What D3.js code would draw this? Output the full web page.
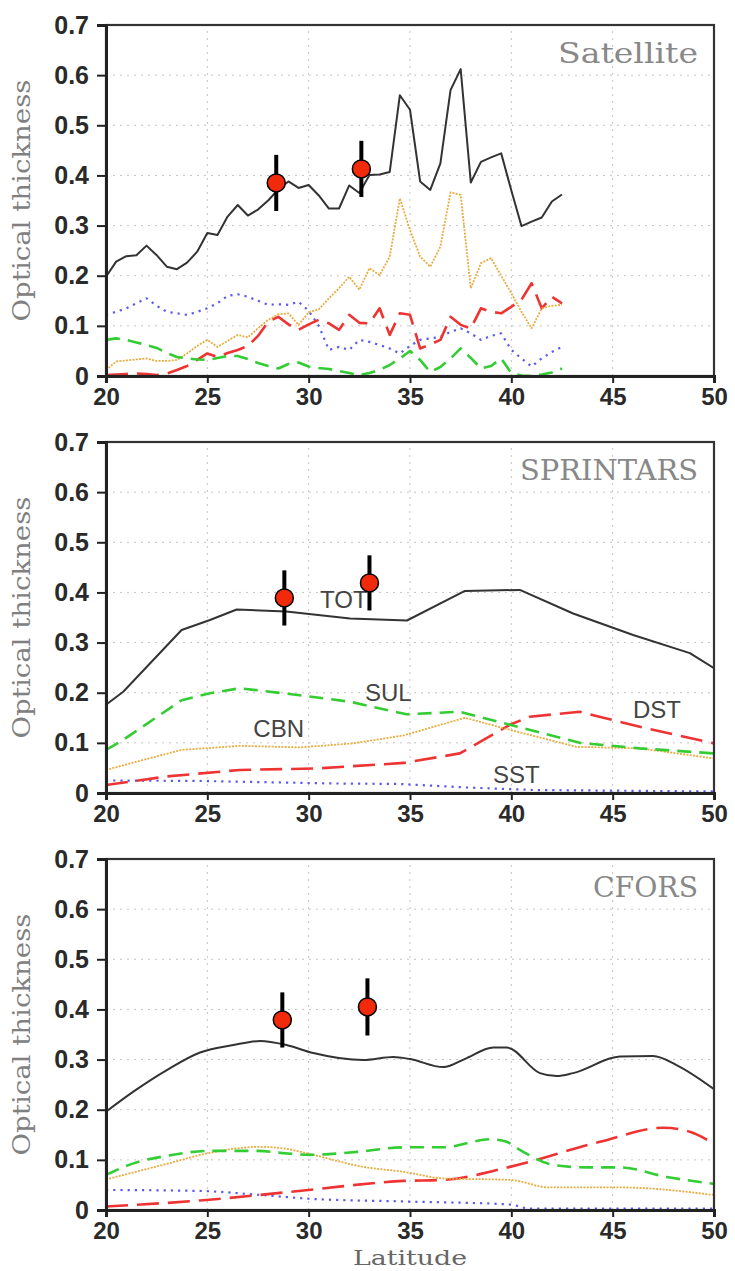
<!DOCTYPE html>
<html><head><meta charset="utf-8">
<script src="https://cdn.jsdelivr.net/npm/d3@7"></script>
<style>body{margin:0;background:#fff}svg{display:block}</style>
</head><body>
<svg id="chart" width="735" height="1271"></svg>
<script>
// ---------------- DATA ----------------
const yTicks = [0, 0.1, 0.2, 0.3, 0.4, 0.5, 0.6, 0.7];
const xTicks = [20, 25, 30, 35, 40, 45, 50];
const seriesNames = ["TOT", "SUL", "CBN", "DST", "SST"];

// Satellite (0.5 degree steps, 20 - 42.5)
const satLat = [20,20.5,21,21.5,22,22.5,23,23.5,24,24.5,25,25.5,26,26.5,27,27.5,28,28.5,29,29.5,30,30.5,31,31.5,32,32.5,33,33.5,34,34.5,35,35.5,36,36.5,37,37.5,38,38.5,39,39.5,40,40.5,41,41.5,42,42.5];
const satTOT = [0.198,0.228,0.239,0.241,0.260,0.241,0.218,0.213,0.226,0.248,0.285,0.281,0.318,0.341,0.320,0.332,0.350,0.372,0.388,0.375,0.381,0.360,0.334,0.334,0.380,0.365,0.401,0.402,0.407,0.560,0.531,0.388,0.371,0.424,0.570,0.612,0.386,0.427,0.436,0.444,0.370,0.299,0.308,0.316,0.348,0.362];
const satCBN = [0.012,0.029,0.031,0.033,0.035,0.030,0.030,0.032,0.045,0.060,0.072,0.058,0.070,0.082,0.077,0.095,0.112,0.123,0.125,0.102,0.127,0.133,0.155,0.175,0.198,0.172,0.215,0.201,0.238,0.354,0.291,0.238,0.218,0.258,0.366,0.361,0.175,0.225,0.235,0.200,0.165,0.128,0.095,0.135,0.140,0.142];
const satSST = [0.122,0.128,0.135,0.145,0.155,0.140,0.128,0.125,0.122,0.128,0.135,0.145,0.160,0.163,0.158,0.150,0.142,0.143,0.142,0.148,0.130,0.100,0.052,0.058,0.052,0.072,0.068,0.062,0.055,0.045,0.060,0.072,0.075,0.078,0.088,0.095,0.085,0.072,0.080,0.085,0.052,0.035,0.019,0.035,0.048,0.058];
const satSUL = [0.072,0.075,0.072,0.067,0.062,0.056,0.046,0.038,0.035,0.033,0.032,0.036,0.040,0.040,0.034,0.026,0.020,0.015,0.024,0.027,0.019,0.016,0.014,0.010,0.006,0.002,0.006,0.012,0.022,0.035,0.050,0.032,0.008,0.018,0.035,0.055,0.036,0.015,0.020,0.035,0.006,0.001,0.000,0.003,0.007,0.015];
const satDST = [0.002,0.003,0.004,0.005,0.004,0.002,0.005,0.012,0.020,0.032,0.045,0.038,0.046,0.052,0.060,0.080,0.108,0.118,0.103,0.092,0.103,0.112,0.105,0.092,0.122,0.106,0.105,0.135,0.082,0.125,0.122,0.055,0.063,0.072,0.118,0.102,0.095,0.135,0.128,0.125,0.138,0.152,0.185,0.135,0.158,0.145];

// SPRINTARS (vertices)
const sprTOTLat = [20,20.85,23.73,25.13,26.45,28.9,32.04,34.85,37.71,40.42,43.05,46.01,48.81,50];
const sprTOT    = [0.176,0.202,0.325,0.345,0.366,0.362,0.348,0.344,0.403,0.405,0.358,0.315,0.279,0.249];
const sprSULLat = [20,20.7,23.73,25.13,26.6,29.56,32.04,34.83,37.46,39.93,43.38,46.34,50];
const sprSUL    = [0.086,0.102,0.185,0.199,0.209,0.195,0.182,0.157,0.162,0.136,0.100,0.089,0.079];
const sprCBNLat = [20,21.84,23.73,26.6,29.56,32.2,34.7,37.71,39.93,43.22,46.34,50];
const sprCBN    = [0.046,0.066,0.086,0.094,0.091,0.099,0.115,0.150,0.126,0.092,0.089,0.069];
const sprDSTLat = [20,23,26.6,30.4,34.7,37.46,39.93,40.9,43.38,46.34,50];
const sprDST    = [0.016,0.033,0.046,0.049,0.060,0.079,0.136,0.152,0.162,0.132,0.099];
const sprSSTLat = [20,24.64,31.2,34.5,37.8,41.08,50];
const sprSST    = [0.025,0.024,0.019,0.018,0.011,0.006,0.003];

// CFORS (vertices, smooth curves)
const cfoTOTLat = [20,21.35,23,24.64,26.28,27.6,28.9,30.23,32.7,34.17,35,36.64,37.8,39.1,39.77,41.41,42.24,43.05,45.36,47,48.15,50];
const cfoTOT    = [0.196,0.236,0.279,0.314,0.329,0.337,0.329,0.313,0.299,0.305,0.301,0.285,0.303,0.324,0.324,0.273,0.267,0.273,0.306,0.307,0.289,0.241];
const cfoSULLat = [20,21.35,23,25.13,27.5,28.6,30.1,32.4,34.7,36.64,38.94,39.77,40.42,42.07,43.72,45.36,47.66,50];
const cfoSUL    = [0.070,0.093,0.108,0.118,0.118,0.114,0.110,0.116,0.125,0.125,0.141,0.136,0.120,0.090,0.085,0.085,0.066,0.052];
const cfoCBNLat = [20,23,25.13,27.6,28.9,30.23,32.7,34.7,36.64,39.93,41.9,45.36,50];
const cfoCBN    = [0.061,0.092,0.114,0.126,0.122,0.110,0.086,0.076,0.063,0.060,0.045,0.045,0.030];
const cfoDSTLat = [20,24.64,27.6,30.23,34.7,36.64,39.93,44.37,47.5,48.8,50];
const cfoDST    = [0.007,0.019,0.030,0.041,0.058,0.060,0.086,0.136,0.164,0.156,0.132];
const cfoSSTLat = [20,24.64,27.6,30.23,34.7,39.93,40.9,50];
const cfoSST    = [0.040,0.038,0.030,0.022,0.017,0.011,0.003,0.003];

// Observations (lat, value, error half-range)
const satObsLat = [28.4, 32.6];   const satObsVal = [0.385, 0.413]; const satObsErr = [0.056, 0.056];
const sprObsLat = [28.8, 33.0];   const sprObsVal = [0.389, 0.419]; const sprObsErr = [0.055, 0.055];
const cfoObsLat = [28.7, 32.9];   const cfoObsVal = [0.379, 0.405]; const cfoObsErr = [0.055, 0.057];

const panelTitles = ["Satellite", "SPRINTARS", "CFORS"];
const yTitle = "Optical thickness";
const xTitle = "Latitude";

// ---------------- STYLE / LAYOUT ----------------
const styles = {
  TOT: {color: "#333333", width: 2, dash: null},
  SUL: {color: "#33cc33", width: 2.6, dash: "14,8"},
  CBN: {color: "#e8ac40", width: 1.8, dash: "2,1.3"},
  DST: {color: "#ee3333", width: 2.6, dash: "22,9"},
  SST: {color: "#5a5af0", width: 2.2, dash: "2.2,5"}
};
const drawOrder = ["SST", "DST", "CBN", "SUL", "TOT"];
const xLeft = 106, xRight = 714;
const panels = [
  {top: 25, bottom: 376, title: panelTitles[0], titleLen: 140, curve: d3.curveLinear,
   series: {TOT: [satLat, satTOT], SUL: [satLat, satSUL], CBN: [satLat, satCBN], DST: [satLat, satDST], SST: [satLat, satSST]},
   obs: [satObsLat, satObsVal, satObsErr], labels: []},
  {top: 442, bottom: 793, title: panelTitles[1], titleLen: 178, curve: d3.curveLinear,
   series: {TOT: [sprTOTLat, sprTOT], SUL: [sprSULLat, sprSUL], CBN: [sprCBNLat, sprCBN], DST: [sprDSTLat, sprDST], SST: [sprSSTLat, sprSST]},
   obs: [sprObsLat, sprObsVal, sprObsErr],
   labels: [["TOT", 30.56, 0.369], ["SUL", 32.78, 0.184], ["CBN", 27.27, 0.112], ["DST", 46.0, 0.149], ["SST", 39.09, 0.020]]},
  {top: 859, bottom: 1210, title: panelTitles[2], titleLen: 105, curve: d3.curveMonotoneX,
   series: {TOT: [cfoTOTLat, cfoTOT], SUL: [cfoSULLat, cfoSUL], CBN: [cfoCBNLat, cfoCBN], DST: [cfoDSTLat, cfoDST], SST: [cfoSSTLat, cfoSST]},
   obs: [cfoObsLat, cfoObsVal, cfoObsErr], labels: []}
];

const svg = d3.select("#chart");
svg.append("rect").attr("width", 735).attr("height", 1271).attr("fill", "#fff");

const x = d3.scaleLinear().domain([20, 50]).range([xLeft, xRight]);

panels.forEach((p, pi) => {
  const y = d3.scaleLinear().domain([0, 0.7]).range([p.bottom, p.top]);
  const g = svg.append("g");

  // grid
  const grid = g.append("g").attr("stroke", "#c4c4c4").attr("stroke-width", 1).attr("stroke-dasharray", "2,5");
  yTicks.filter(v => v > 0 && v < 0.7).forEach(v => {
    grid.append("line").attr("x1", x(20)).attr("x2", x(50)).attr("y1", y(v)).attr("y2", y(v));
  });
  xTicks.filter(v => v > 20 && v < 50).forEach(v => {
    grid.append("line").attr("x1", x(v)).attr("x2", x(v)).attr("y1", y(0)).attr("y2", y(0.7));
  });

  // series lines
  const clipId = "clip" + pi;
  g.append("clipPath").attr("id", clipId).append("rect")
    .attr("x", x(20)).attr("y", y(0.7)).attr("width", x(50) - x(20)).attr("height", y(0) - y(0.7) - 1);
  const lines = g.append("g").attr("clip-path", `url(#${clipId})`);
  drawOrder.forEach(name => {
    const [lat, val] = p.series[name];
    const pts = lat.map((l, i) => [l, val[i]]);
    const st = styles[name];
    const line = d3.line().x(d => x(d[0])).y(d => y(d[1])).curve(p.curve);
    lines.append("path").attr("d", line(pts)).attr("fill", "none")
      .attr("stroke", st.color).attr("stroke-width", st.width)
      .attr("stroke-dasharray", st.dash).attr("stroke-linejoin", "round");
  });

  // series labels
  p.labels.forEach(([t, lx, ly]) => {
    g.append("text").attr("x", x(lx)).attr("y", y(ly)).text(t)
      .attr("font-family", "Liberation Sans, Arial, sans-serif").attr("font-size", 24)
      .attr("fill", "#444");
  });

  // observations
  const [oLat, oVal, oErr] = p.obs;
  oLat.forEach((l, i) => {
    g.append("line").attr("x1", x(l)).attr("x2", x(l))
      .attr("y1", y(oVal[i] - oErr[i])).attr("y2", y(oVal[i] + oErr[i]))
      .attr("stroke", "#000").attr("stroke-width", 4);
    g.append("circle").attr("cx", x(l)).attr("cy", y(oVal[i])).attr("r", 9)
      .attr("fill", "#f02a0a").attr("stroke", "#000").attr("stroke-width", 1.5);
  });

  // frame
  g.append("rect").attr("x", x(20)).attr("y", y(0.7)).attr("width", x(50) - x(20)).attr("height", y(0) - y(0.7))
    .attr("fill", "none").attr("stroke", "#333").attr("stroke-width", 2.2);

  // axes
  const ya = g.append("g").attr("transform", `translate(${x(20)},0)`)
    .call(d3.axisLeft(y).tickValues(yTicks).tickFormat(d => d === 0 ? "0" : d3.format(".1f")(d)).tickSize(9).tickPadding(8));
  ya.select(".domain").attr("stroke", "#222").attr("stroke-width", 3);
  ya.selectAll(".tick line").attr("stroke", "#222").attr("stroke-width", 2);
  ya.selectAll("text").attr("font-family", "Liberation Sans, Arial, sans-serif").attr("font-size", 25)
    .attr("font-weight", "bold").attr("fill", "#2a2a2a");

  const xa = g.append("g").attr("transform", `translate(0,${y(0)})`)
    .call(d3.axisBottom(x).tickValues(xTicks).tickFormat(d3.format("d")).tickSize(7).tickPadding(5));
  xa.select(".domain").attr("stroke", "#222").attr("stroke-width", 3);
  xa.selectAll(".tick line").attr("stroke", "#222").attr("stroke-width", 2);
  xa.selectAll("text").attr("font-family", "Liberation Sans, Arial, sans-serif").attr("font-size", 24)
    .attr("font-weight", "bold").attr("fill", "#2a2a2a");

  // panel title
  g.append("text").attr("x", 698).attr("y", y(0.7) + 38).attr("text-anchor", "end")
    .attr("font-family", "DejaVu Serif, serif").attr("font-size", 28).attr("fill", "#888")
    .attr("textLength", p.titleLen).attr("lengthAdjust", "spacingAndGlyphs").text(p.title);

  // y title
  const cy = (p.top + p.bottom) / 2;
  g.append("text").attr("transform", `translate(30,${cy}) rotate(-90)`).attr("text-anchor", "middle")
    .attr("font-family", "DejaVu Serif, serif").attr("font-size", 24).attr("fill", "#808080")
    .attr("textLength", 242).attr("lengthAdjust", "spacingAndGlyphs").text(yTitle);
});

svg.append("text").attr("x", (xLeft + xRight) / 2).attr("y", 1265).attr("text-anchor", "middle")
  .attr("font-family", "DejaVu Serif, serif").attr("font-size", 21).attr("fill", "#666")
  .attr("textLength", 114).attr("lengthAdjust", "spacingAndGlyphs").text(xTitle);
</script>
</body></html>
